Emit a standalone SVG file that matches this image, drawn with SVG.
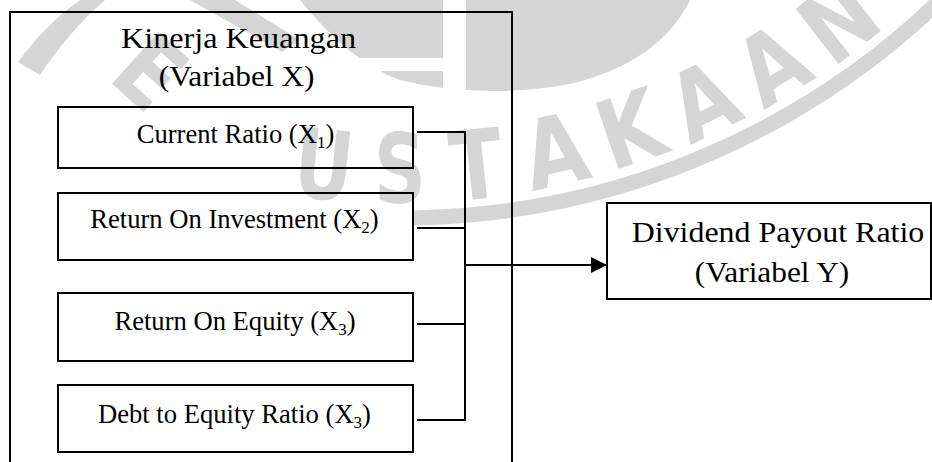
<svg xmlns="http://www.w3.org/2000/svg" width="932" height="462" viewBox="0 0 932 462">
<style>
  .wm { fill:#d5d5d5; font-family:"DejaVu Sans", "Liberation Sans", sans-serif; font-weight:bold; font-size:96px; text-anchor:middle; }
  .wmb { fill:none; stroke:#d5d5d5; }
  .wmf { fill:#d5d5d5; }
  .box { fill:none; stroke:#000; stroke-width:2; }
  .t { font-family:"Liberation Serif","Times New Roman",serif; fill:#000; text-anchor:middle; }
  .h { font-size:28.5px; }
  .s { font-size:26.6px; }
  .conn { fill:none; stroke:#000; stroke-width:2; }
</style>
<defs>
  <marker id="arr" markerUnits="userSpaceOnUse" markerWidth="16" markerHeight="16" refX="16" refY="8" orient="auto">
    <path d="M0,0 L16,8 L0,16 Z" fill="#000"/>
  </marker>
</defs>
<rect width="932" height="462" fill="#fff"/>
<g id="watermark">
  <path class="wmf" d="M300,0 L690,0 Q660,62 570,84 Q480,100 400,80 Q350,62 300,0 Z"/>
  <rect x="443" y="0" width="23" height="104" fill="#fff"/>
  <rect x="330" y="58" width="113" height="13" fill="#fff"/>
  <path class="wmf" d="M190,0 L235,0 L300,40 L282,52 Z"/>
  <path class="wmf" d="M18,62 Q45,25 80,0 L105,0 Q70,30 40,75 Z"/>
  <text class="wm" transform="translate(150,72) rotate(42) scale(0.85,1)" y="34">E</text>
  <path class="wmb" stroke-width="15" d="M413.6,217.9 A778,778 0 0 0 978,-39"/>
  <g class="wm">
    <text transform="translate(323.9,164) rotate(6) scale(0.75,1)" y="35">U</text>
    <text transform="translate(400,168) scale(0.75,1)" y="35">S</text>
    <text transform="translate(476.1,164) rotate(-6) scale(0.8,1)" y="35">T</text>
    <text transform="translate(555,150) rotate(-13) scale(0.85,1)" y="35">A</text>
    <text transform="translate(630,128) rotate(-19) scale(0.85,1)" y="35">K</text>
    <text transform="translate(703,100) rotate(-26) scale(0.85,1)" y="35">A</text>
    <text transform="translate(772,64) rotate(-32) scale(0.85,1)" y="35">A</text>
    <text transform="translate(838,20) rotate(-38) scale(0.85,1)" y="35">N</text>
  </g>
</g>
<g id="kinerja">
  <path class="box" d="M10,470 V12 H512 V470"/>
  <text class="t h" transform="translate(238.5,48) scale(1.13,1)">Kinerja Keuangan</text>
  <text class="t h" transform="translate(236.6,86) scale(1.1,1)">(Variabel X)</text>
</g>
<g id="cr">
  <rect class="box" x="58" y="107" width="355" height="61"/>
  <text class="t s" x="235.5" y="143">Current Ratio (X<tspan font-size="17" dy="5">1</tspan><tspan dy="-5">)</tspan></text>
</g>
<g id="roi">
  <rect class="box" x="58" y="193" width="355" height="67"/>
  <text class="t s" x="234.5" y="228">Return On Investment (X<tspan font-size="17" dy="5">2</tspan><tspan dy="-5">)</tspan></text>
</g>
<g id="roe">
  <rect class="box" x="58" y="293" width="355" height="68"/>
  <text class="t s" x="235" y="330">Return On Equity (X<tspan font-size="17" dy="5">3</tspan><tspan dy="-5">)</tspan></text>
</g>
<g id="der">
  <rect class="box" x="58" y="385" width="355" height="67"/>
  <text class="t s" x="234.5" y="423">Debt to Equity Ratio (X<tspan font-size="17" dy="5">3</tspan><tspan dy="-5">)</tspan></text>
</g>
<g id="dpr">
  <rect class="box" x="607" y="203" width="324" height="96"/>
  <text class="t h" transform="translate(778,242) scale(1.12,1)">Dividend Payout Ratio</text>
  <text class="t h" transform="translate(772,282) scale(1.1,1)">(Variabel Y)</text>
</g>
<g id="connectors">
  <path class="conn" d="M417,132 H465 V420 H417"/>
  <path class="conn" d="M417,228 H465"/>
  <path class="conn" d="M417,324 H465"/>
  <path class="conn" d="M465,265 H607" marker-end="url(#arr)"/>
</g>
</svg>
